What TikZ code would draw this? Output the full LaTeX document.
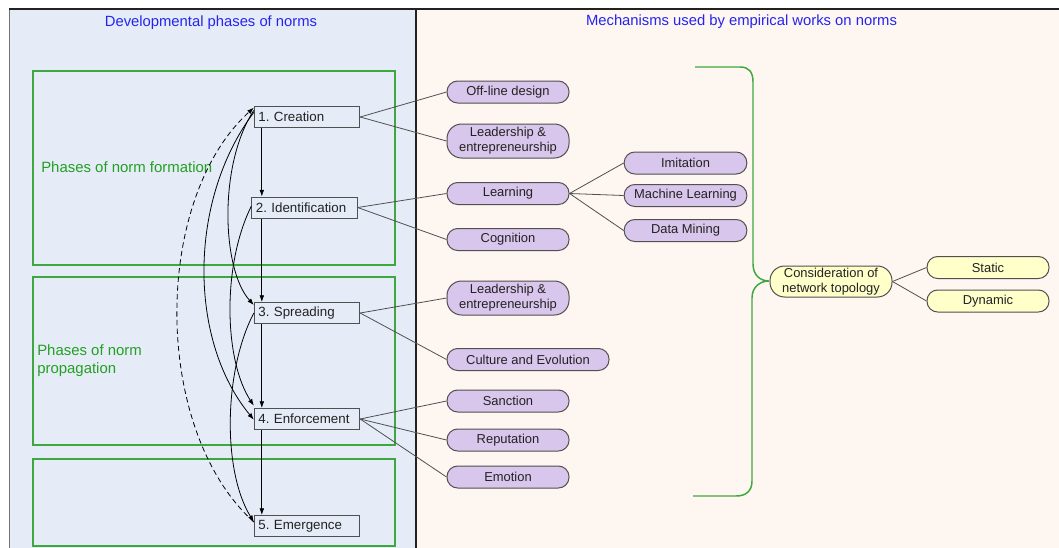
\documentclass[tikz,border=0pt]{standalone}
\usepackage{fontspec}
\setmainfont{Liberation Sans}
\usetikzlibrary{arrows.meta}
\frenchspacing
\definecolor{leftbg}{HTML}{E6ECF7}
\definecolor{rightbg}{HTML}{FDF6F1}
\definecolor{gline}{HTML}{3DA83D}
\definecolor{gtext}{HTML}{22A022}
\definecolor{btext}{HTML}{2424F0}
\definecolor{purp}{HTML}{D9C6EC}
\definecolor{yel}{HTML}{FFFFCA}
\definecolor{edge}{HTML}{505050}
\definecolor{ink}{HTML}{222222}
\tikzset{
  phase/.style={draw=edge, line width=0.75pt, fill=leftbg, minimum height=15.75pt,
    text width=73pt, inner xsep=3pt, inner ysep=0pt, align=left,
    font=\fontsize{10}{12}\selectfont, text=ink},
  pill/.style={draw=edge, line width=0.75pt, fill=purp, rounded corners=8pt,
    minimum width=91.5pt, minimum height=16.5pt, inner sep=0pt, align=center,
    font=\fontsize{9.7}{11.2}\selectfont, text=ink},
  ypill/.style={pill, fill=yel},
  arr/.style={-{Latex[length=5pt,width=3.6pt]}, line width=0.6pt, draw=black},
  conn/.style={line width=0.6pt, draw=edge},
  greenbox/.style={draw=gline, line width=1.1pt},
  gtitle/.style={text=gtext, font=\fontsize{11.2}{13.5}\selectfont, inner sep=0pt},
  btitle/.style={text=btext, font=\fontsize{11.1}{13}\selectfont, inner sep=0pt},
}
\begin{document}
\begin{tikzpicture}[x=0.75pt,y=-0.75pt]
\useasboundingbox (0,0) rectangle (1059,547);
\fill[white] (0,0) rectangle (1059,547);
% panels
\draw[fill=leftbg, draw=edge!80, line width=0.75pt] (9,9) rectangle (416,550);
\draw[fill=rightbg, draw=none] (416.4,9.4) rectangle (1062,550);
\draw[ink, line width=0.9pt] (9,9) -- (1062,9);
\draw[ink, line width=0.9pt] (416,9) -- (416,550);
% titles
\node[btitle] (tl) at (211,22.5) {Developmental phases of norms};
\node[btitle] (tr) at (741.5,21.5) {Mechanisms used by empirical works on norms};
% green boxes
\draw[greenbox] (33,71) rectangle (395,265);
\draw[greenbox] (33,277) rectangle (395,445);
\draw[greenbox] (33,459) rectangle (395,546);
\node[gtitle, anchor=west] (g1) at (41,167.5) {Phases of norm formation};
\node[gtitle, anchor=north west, align=left] (g2) at (37,344) {Phases of norm\\[0.5pt]propagation};
% phase boxes
\node[phase] (c1) at (307,117) {1. Creation};
\node[phase] (c2) at (304.5,207.5) {2. Identification};
\node[phase] (c3) at (307,313) {3. Spreading};
\node[phase] (c4) at (307,419) {4. Enforcement};
\node[phase] (c5) at (307,526) {5. Emergence};
% vertical arrows
\draw[arr] ([xshift=6pt]c1.south west) -- ([xshift=6pt]c1.south west |- c2.north);
\draw[arr] ([xshift=6pt]c1.south west |- c2.south) -- ([xshift=6pt]c3.north west);
\draw[arr] ([xshift=6pt]c3.south west) -- ([xshift=6pt]c4.north west);
\draw[arr] ([xshift=6pt]c4.south west) -- ([xshift=6pt]c5.north west);
% curved arrows
\draw[arr] ([yshift=5pt]c1.west) .. controls (218,165) and (222,270) .. ([yshift=6pt]c3.west);
\draw[arr] ([yshift=3.5pt]c1.west) .. controls (188,200) and (188,340) .. ([yshift=-0.5pt]c4.west);
\draw[arr] ([yshift=1pt]c2.west) .. controls (222,265) and (224,360) .. ([yshift=10pt]c4.west);
\draw[arr] (c3.west) .. controls (224,370) and (222,470) .. ([yshift=3pt]c5.west);
\draw[arr, dashed, dash pattern=on 4pt off 2.5pt] ([yshift=3pt]c5.west) .. controls (152,430) and (152,200) .. ([yshift=7pt]c1.west);
% mechanism pills
\node[pill] (off) at (508,92) {Off-line design};
\node[pill, minimum height=25.5pt, rounded corners=11pt] (lead1) at (508,141) {Leadership \&\\entrepreneurship};
\node[pill] (learn) at (508,193.5) {Learning};
\node[pill] (cog) at (508,239.5) {Cognition};
\node[pill, minimum width=92pt] (imit) at (685.5,163) {Imitation};
\node[pill, minimum width=92pt] (ml) at (685.5,195.5) {Machine Learning};
\node[pill, minimum width=92pt] (dm) at (685.5,230.5) {Data Mining};
\node[pill, minimum height=25.5pt, rounded corners=11pt] (lead2) at (508,298) {Leadership \&\\entrepreneurship};
\node[pill, minimum width=121.5pt] (cult) at (528,359.5) {Culture and Evolution};
\node[pill] (sanc) at (508,401) {Sanction};
\node[pill] (rep) at (508,440) {Reputation};
\node[pill] (emo) at (508,477) {Emotion};
% connectors
\draw[conn] (c1.east) -- (off.west);
\draw[conn] (c1.east) -- (lead1.west);
\draw[conn] (c2.east) -- (learn.west);
\draw[conn] (c2.east) -- (cog.west);
\draw[conn] (learn.east) -- (imit.west);
\draw[conn] (learn.east) -- (ml.west);
\draw[conn] (learn.east) -- (dm.west);
\draw[conn] (c3.east) -- (lead2.west);
\draw[conn] (c3.east) -- (cult.west);
\draw[conn] (c4.east) -- (sanc.west);
\draw[conn] (c4.east) -- (rep.west);
\draw[conn] (c4.east) -- (emo.west);
% brace
\coordinate (tip) at (769,281);
\draw[gline, line width=1.1pt] (695,67) -- (740,67) .. controls (749,67) and (753,72) .. (753,82)
  -- (753,264) .. controls (753,275) and (760,281) .. (tip)
  .. controls (760,281) and (752,287) .. (752,298)
  -- (752,481) .. controls (752,491) and (746,496) .. (736,496) -- (693,496);
% topology
\node[ypill, minimum height=23.25pt, rounded corners=11pt] (topo) at (831,281.5) {Consideration of\\network topology};
\node[ypill] (stat) at (988,267.5) {Static};
\node[ypill] (dyn) at (988,301) {Dynamic};
\draw[conn] (topo.east) -- (stat.west);
\draw[conn] (topo.east) -- (dyn.west);
\end{tikzpicture}
\end{document}
